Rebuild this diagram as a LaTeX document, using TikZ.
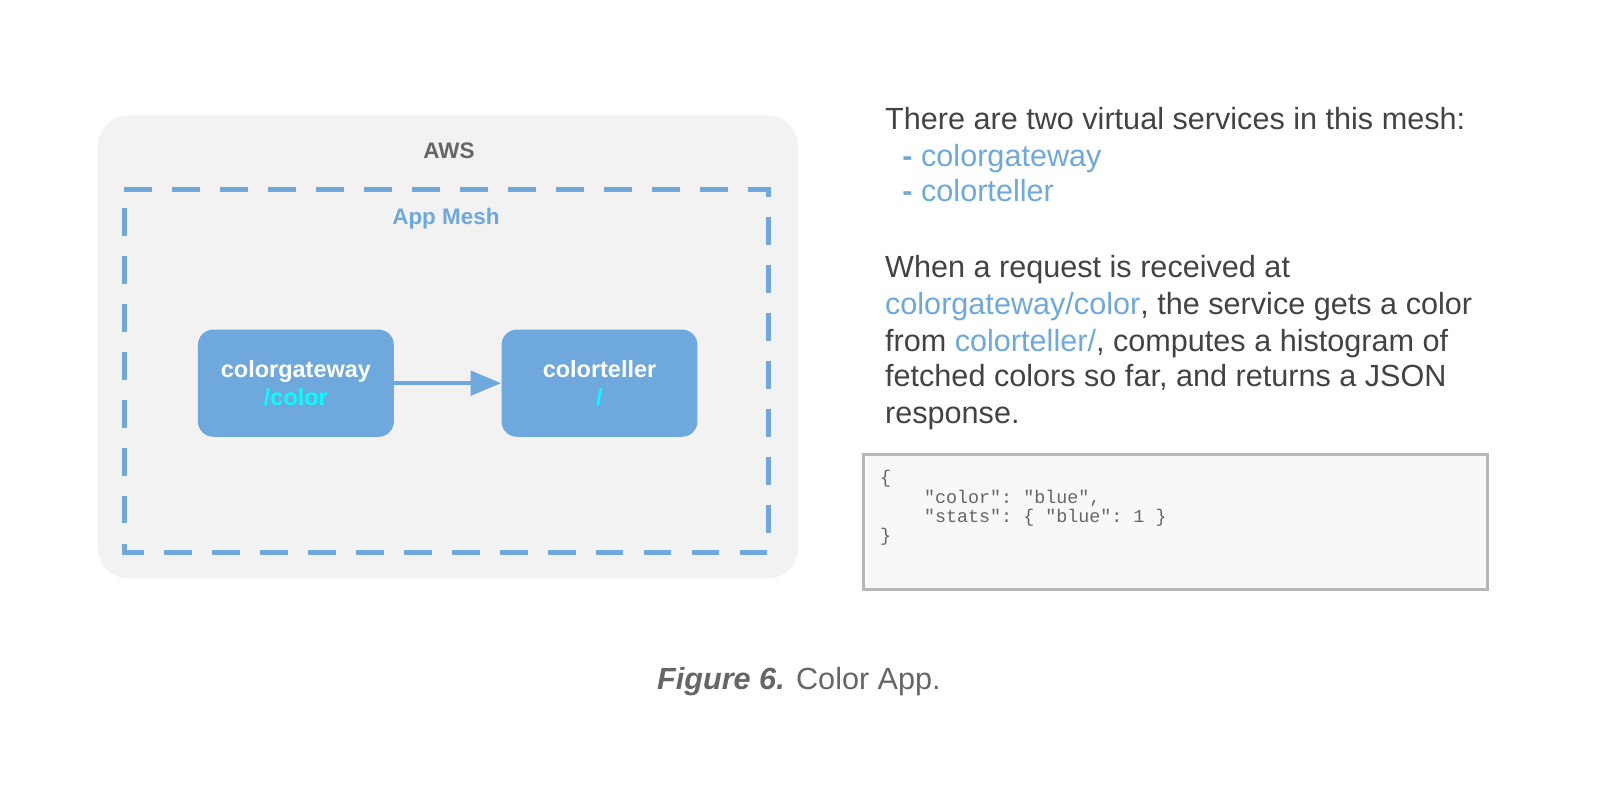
\documentclass[tikz,border=0pt]{standalone}
\usepackage{fontspec}
\setmainfont{Liberation Sans}
\setmonofont{Liberation Mono}
\usepackage{tikz}
\usetikzlibrary{arrows.meta}
\definecolor{meshblue}{HTML}{6FA8DC}
\definecolor{awsgray}{HTML}{F2F2F2}
\definecolor{textgray}{HTML}{434343}
\definecolor{labelgray}{HTML}{666666}
\definecolor{codefill}{HTML}{F8F8F8}
\definecolor{codeline}{HTML}{B7B7B7}
\definecolor{pathcyan}{HTML}{00FFFF}
\tikzstyle{flow} = [-{Triangle[length=15pt,width=12pt]},line width=2pt,draw=meshblue]
\tikzstyle{svc} = [fill=meshblue,rounded corners=7.5pt,minimum width=96pt,minimum height=52.5pt,text=white,font=\fontsize{11.5}{14}\selectfont\bfseries,align=center]
\tikzstyle{txt} = [anchor=base west,inner sep=0pt,text=textgray,font=\fontsize{15}{18}\selectfont]
\tikzstyle{code} = [anchor=base west,inner sep=0pt,text=labelgray,font=\fontsize{9}{9.5}\selectfont\ttfamily]

\begin{document}
\begin{tikzpicture}[x=0.5pt,y=-0.5pt]
        \useasboundingbox (0,0) rectangle (1568,784);
        \fill[awsgray, rounded corners=15pt] (96,113) rectangle (782,567);
        \node[text=labelgray, font=\fontsize{11}{13}\selectfont\bfseries] at (440,148) (aws) {AWS};
        \draw[meshblue, line width=2.5pt, dash pattern=on 13.5pt off 10pt] (122,186) -- (753,186) -- (753,541) -- (122,541) -- cycle;
        \node[text=meshblue, font=\fontsize{11}{13}\selectfont\bfseries] at (437,214) (mesh) {App Mesh};

        \node[svc] at (290,375.5) (gw) {colorgateway\\\textcolor{pathcyan}{/color}};
        \node[svc] at (587.5,375.5) (teller) {colorteller\\\textcolor{pathcyan}{/}};
        \draw[flow] (gw) -- (teller);

        \node[txt] at (867,127) (l1) {There are two virtual services in this mesh:};
        \node[txt, text=meshblue] at (884,163) (l2) {\textbf{-} colorgateway};
        \node[txt, text=meshblue] at (884,197) (l3) {\textbf{-} colorteller};
        \node[txt] at (867,272) (l4) {When a request is received at};
        \node[txt] at (867,308) (l5) {\textcolor{meshblue}{colorgateway/color}, the service gets a color};
        \node[txt] at (867,344) (l6) {from \textcolor{meshblue}{colorteller/}, computes a histogram of};
        \node[txt] at (867,379) (l7) {fetched colors so far, and returns a JSON};
        \node[txt] at (867,415) (l8) {response.};

        \draw[codeline, fill=codefill, line width=1.5pt] (846,445) rectangle (1458,578);
        \node[code] at (862,474) (c1) {\{};
        \node[code] at (862,493) (c2) {~~~~"color": "blue",};
        \node[code] at (862,512) (c3) {~~~~"stats": \{ "blue": 1 \}};
        \node[code] at (862,531) (c4) {\}};

        \node[text=labelgray, font=\fontsize{15}{18}\selectfont] at (783,668) (cap) {\textbf{\textit{Figure 6.}} Color App.};
\end{tikzpicture}
\end{document}
